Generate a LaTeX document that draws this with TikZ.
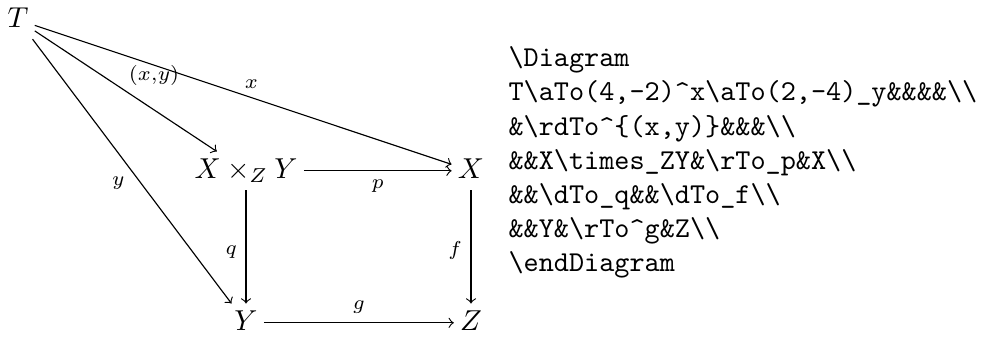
\documentclass[tikz,border=0pt]{standalone}
\usetikzlibrary{calc}

\begin{document}
\begin{tikzpicture}[x=0.3472pt, y=-0.3472pt,
    obj/.style={inner sep=2pt, text height=7pt, text depth=2pt},
    arr/.style={->, line width=0.4pt},
    lbl/.style={inner sep=3pt, font=\scriptsize},
    codeline/.style={anchor=base west, inner sep=0pt, font=\ttfamily}]
            \def\bs{\textbackslash}
            \useasboundingbox (0,0) rectangle (987,337);
            % Draw the objects of the square
            \node[obj, anchor=base] (T) at (18,27) {$T$};
            \node[obj, anchor=base] (P) at (246,178) {$X\times_Z Y$};
            \node[obj, anchor=base] (X) at (471,178) {$X$};
            \node[obj, anchor=base] (Y) at (246,330) {$Y$};
            \node[obj, anchor=base] (Z) at (471,330) {$Z$};
            % Draw the arrows out of T
            \draw[arr] (T) -- node[lbl, above, pos=0.52] {$x$} (X);
            \draw[arr] (T) -- node[lbl, inner sep=1.5pt, above right, pos=0.49] {$(x{,}y)$} (P);
            \draw[arr] (T) -- node[lbl, left=2.5pt, pos=0.545] {$y$} (Y);
            % Draw the pullback square
            \draw[arr] (P) -- node[lbl, below] {$p$} (X);
            \draw[arr] (P) -- node[lbl, left, pos=0.55] {$q$} (Y);
            \draw[arr] (X) -- node[lbl, left, pos=0.53] {$f$} (Z);
            \draw[arr] (Y) -- node[lbl, above] {$g$} (Z);
            % Draw the source lines
            \foreach \row [count=\i] in {%
                {\bs Diagram},
                {T\bs aTo(4,-2)\textasciicircum x\bs aTo(2,-4)\_y\&\&\&\&\bs\bs},
                {\&\bs rdTo\textasciicircum\{(x,y)\}\&\&\&\bs\bs},
                {\&\&X\bs times\_ZY\&\bs rTo\_p\&X\bs\bs},
                {\&\&\bs dTo\_q\&\&\bs dTo\_f\bs\bs},
                {\&\&Y\&\bs rTo\textasciicircum g\&Z\bs\bs},
                {\bs endDiagram}} {
                \node[codeline] (line\i) at (508, {66.7+34.2*(\i-1)}) {\row};
            };
        \end{tikzpicture}
\end{document}
